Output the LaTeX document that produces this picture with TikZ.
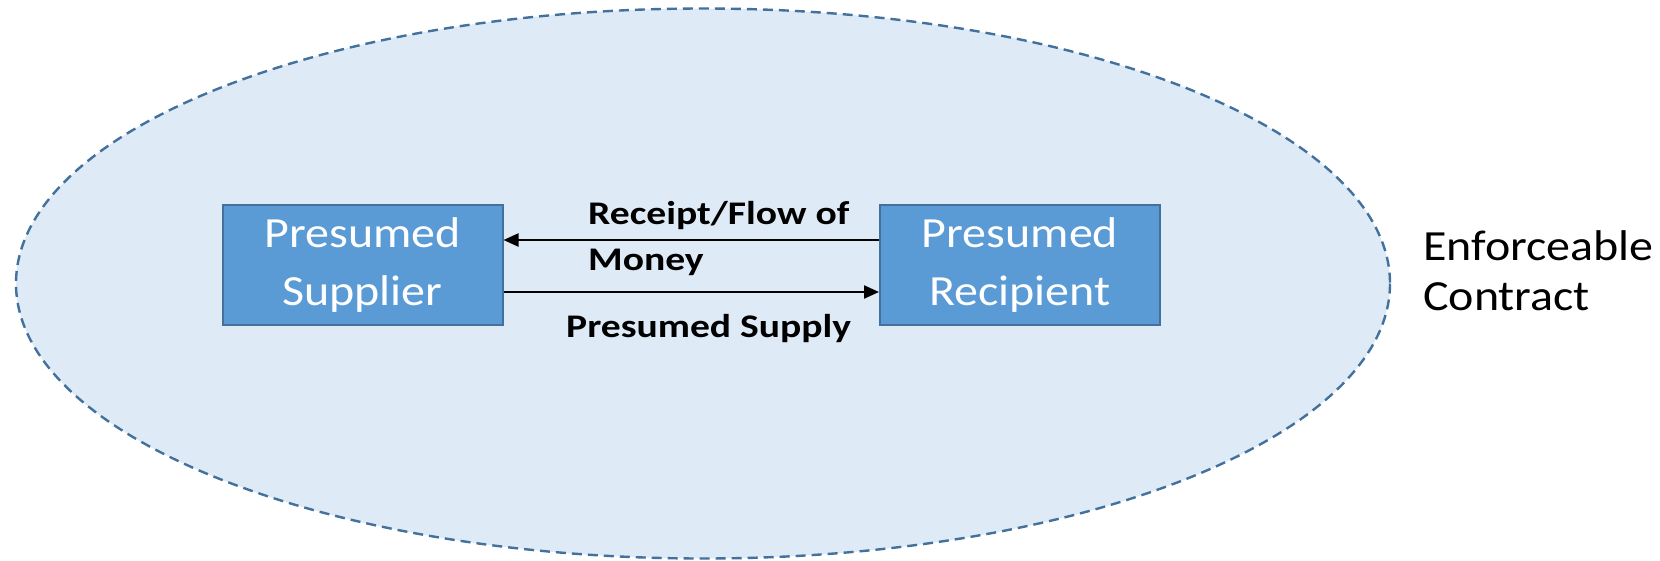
\documentclass[tikz,border=0pt]{standalone}
\usepackage{fontspec}
\setmainfont{Carlito}
\newfontfamily\widebold[FakeStretch=1.2]{Carlito}
\newfontfamily\wideboxfont[FakeStretch=1.116]{Carlito}
\usetikzlibrary{arrows.meta}
\definecolor{ellfill}{RGB}{222,234,246}
\definecolor{ellline}{RGB}{65,113,156}
\definecolor{boxfill}{RGB}{91,155,213}
\definecolor{boxline}{RGB}{65,113,156}
\tikzset{
  party/.style={draw=boxline, fill=boxfill, line width=2pt, minimum width=280pt, minimum height=120pt, inner sep=0pt, text=white, font=\wideboxfont\fontsize{43}{58}\selectfont, align=center},
  flow/.style={line width=2.3pt, -{Triangle[length=15pt,width=13pt]}},
  lbl/.style={font=\widebold\bfseries\fontsize{33}{47}\selectfont, anchor=base west, inner sep=0pt},
  side/.style={font=\wideboxfont\fontsize{43}{50}\selectfont, anchor=base west, inner sep=0pt}
}
\begin{document}
\begin{tikzpicture}[x=1pt,y=-1pt]
\useasboundingbox (0,0) rectangle (1660,560);
\draw[fill=ellfill, draw=ellline, line width=2.4pt, dash pattern=on 10pt off 6pt] (703,283.5) ellipse [x radius=687, y radius=275];
\node[party] (sup) at (362.5,265) {Presumed\\Supplier};
\node[party] (rec) at (1020,265) {Presumed\\Recipient};
\draw[flow] ([yshift=25pt]rec.west) -- ([yshift=25pt]sup.east);
\draw[flow] ([yshift=-27pt]sup.east) -- ([yshift=-27pt]rec.west);
\node[lbl] (l1) at (588,224) {Receipt/Flow of};
\node[lbl] (l2) at (588,270) {Money};
\node[lbl] (l3) at (566,337) {Presumed Supply};
\node[side] (c1) at (1423,260) {Enforceable};
\node[side] (c2) at (1423,310) {Contract};
\end{tikzpicture}
\end{document}
